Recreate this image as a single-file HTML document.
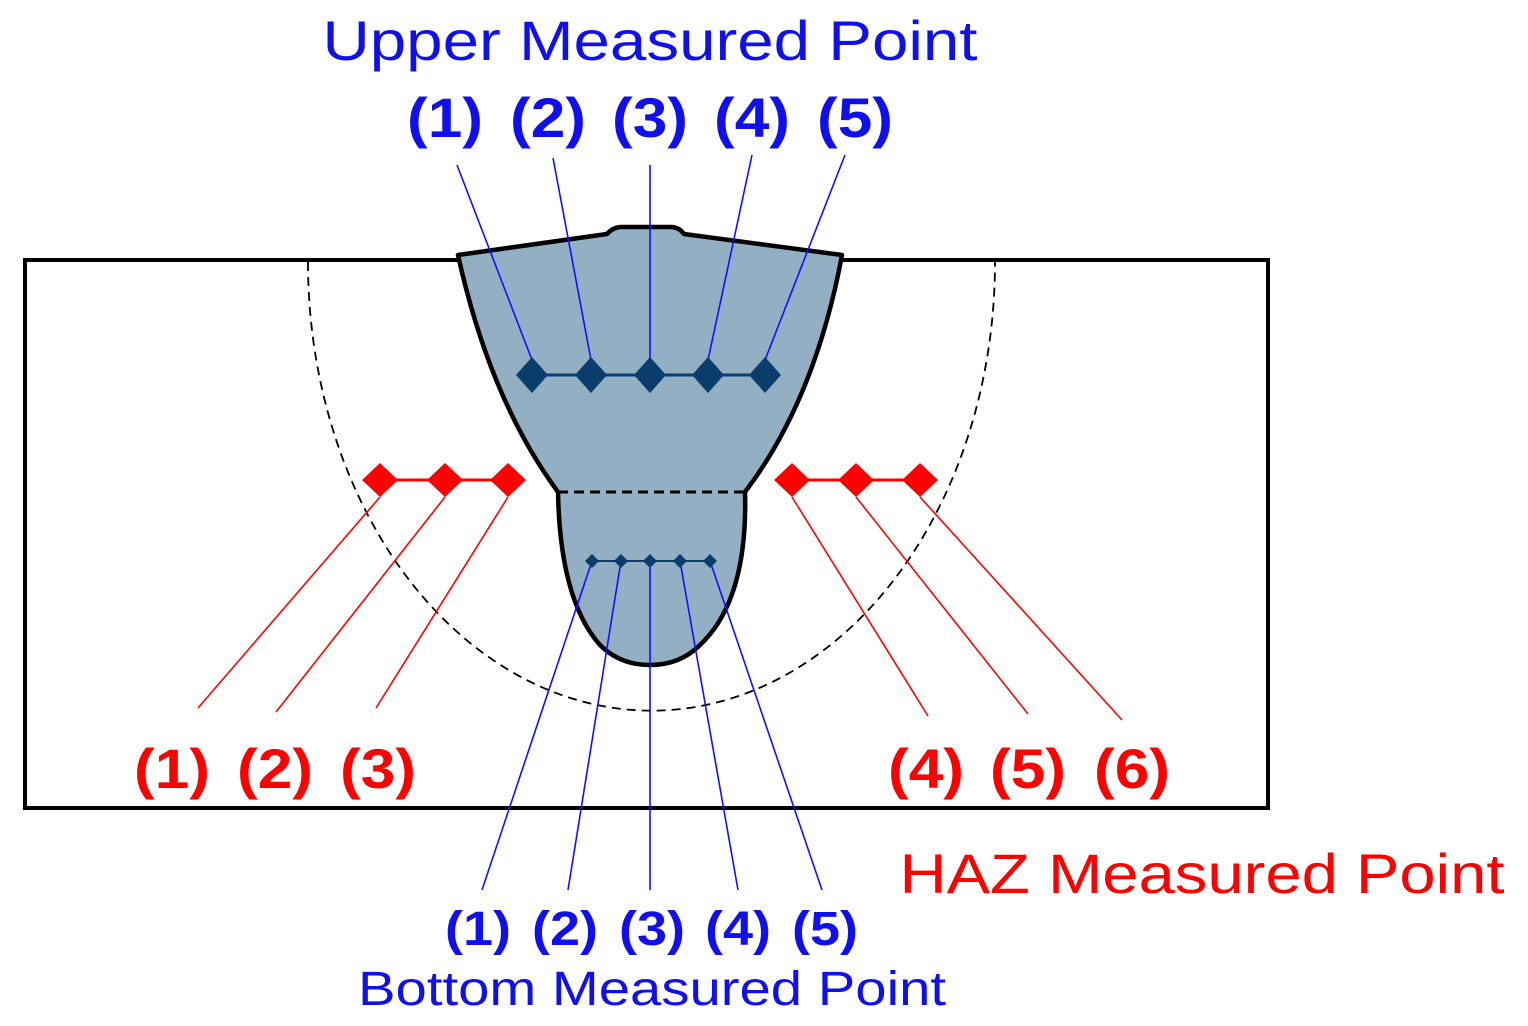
<!DOCTYPE html>
<html><head><style>body{margin:0;background:#fff}svg{display:block}</style></head><body>
<svg width="1528" height="1026" viewBox="0 0 1528 1026" xmlns="http://www.w3.org/2000/svg" font-family="Liberation Sans, sans-serif">
<rect x="25" y="260" width="1243" height="548" fill="none" stroke="#000" stroke-width="4"/>
<path d="M308,262 A343,448 0 0 0 995,262" fill="none" stroke="#000" stroke-width="1.8" stroke-dasharray="9,6"/>
<path d="M458,255 L607,234 Q612,228 620,227 L672,227 Q680,228 684,234 L842,255 Q815,400 745,492 Q748,600 700,645 Q680,665 650,665 Q620,665 600,645 Q560,600 558,492 Q490,400 458,255 Z" fill="#93AFC4" stroke="#000" stroke-width="4.5" stroke-linejoin="round"/>
<line x1="558" y1="492" x2="745" y2="492" stroke="#000" stroke-width="3" stroke-dasharray="10,6"/>
<g stroke="#1010ff" stroke-width="1.6">
<line x1="457" y1="165" x2="532" y2="360"/><line x1="553" y1="158" x2="591" y2="360"/><line x1="650" y1="165" x2="650" y2="360"/><line x1="752" y1="155" x2="708" y2="360"/><line x1="845" y1="155" x2="765" y2="360"/>
<line x1="592" y1="561" x2="482" y2="890"/><line x1="621" y1="561" x2="568" y2="890"/><line x1="650" y1="561" x2="650" y2="890"/><line x1="680" y1="561" x2="738" y2="890"/><line x1="710" y1="561" x2="822" y2="890"/>
</g>
<line x1="532" y1="375" x2="765" y2="375" stroke="#0A3D6B" stroke-width="3"/>
<g fill="#0A3D6B">
<path d="M532,357 L548,375 L532,393 L516,375Z"/><path d="M591,357 L607,375 L591,393 L575,375Z"/><path d="M650,357 L666,375 L650,393 L634,375Z"/><path d="M708,357 L724,375 L708,393 L692,375Z"/><path d="M765,357 L781,375 L765,393 L749,375Z"/>
</g>
<line x1="592" y1="561" x2="710" y2="561" stroke="#0A3D6B" stroke-width="2"/>
<g fill="#0A3D6B">
<path d="M592,554 L599,561 L592,568 L585,561Z"/><path d="M621,554 L628,561 L621,568 L614,561Z"/><path d="M650,554 L657,561 L650,568 L643,561Z"/><path d="M680,554 L687,561 L680,568 L673,561Z"/><path d="M710,554 L717,561 L710,568 L703,561Z"/>
</g>
<g stroke="#ff0000" stroke-width="1.6">
<line x1="380" y1="497" x2="198" y2="708"/><line x1="445" y1="497" x2="276" y2="712"/><line x1="508" y1="497" x2="376" y2="708"/>
<line x1="792" y1="497" x2="928" y2="716"/><line x1="856" y1="497" x2="1028" y2="714"/><line x1="920" y1="497" x2="1122" y2="720"/>
</g>
<g stroke="#ff0000" stroke-width="3"><line x1="380" y1="480" x2="508" y2="480"/><line x1="792" y1="480" x2="920" y2="480"/></g>
<g fill="#ff0000">
<path d="M380,463 L398,480 L380,497 L362,480Z"/><path d="M445,463 L463,480 L445,497 L427,480Z"/><path d="M508,463 L526,480 L508,497 L490,480Z"/>
<path d="M792,463 L810,480 L792,497 L774,480Z"/><path d="M856,463 L874,480 L856,497 L838,480Z"/><path d="M920,463 L938,480 L920,497 L902,480Z"/>
</g>
<g fill="#1010ee" text-anchor="middle">
<text x="650" y="60" font-size="56" textLength="655" lengthAdjust="spacingAndGlyphs">Upper Measured Point</text>
<g font-size="56" font-weight="bold">
<text x="445" y="137" textLength="76" lengthAdjust="spacingAndGlyphs">(1)</text><text x="548" y="137" textLength="76" lengthAdjust="spacingAndGlyphs">(2)</text><text x="650" y="137" textLength="76" lengthAdjust="spacingAndGlyphs">(3)</text><text x="752" y="137" textLength="76" lengthAdjust="spacingAndGlyphs">(4)</text><text x="855" y="137" textLength="76" lengthAdjust="spacingAndGlyphs">(5)</text>
</g>
<g font-size="48" font-weight="bold">
<text x="478" y="945" textLength="66" lengthAdjust="spacingAndGlyphs">(1)</text><text x="565" y="945" textLength="66" lengthAdjust="spacingAndGlyphs">(2)</text><text x="652" y="945" textLength="66" lengthAdjust="spacingAndGlyphs">(3)</text><text x="738" y="945" textLength="66" lengthAdjust="spacingAndGlyphs">(4)</text><text x="825" y="945" textLength="66" lengthAdjust="spacingAndGlyphs">(5)</text>
</g>
<text x="652" y="1005" font-size="48" textLength="588" lengthAdjust="spacingAndGlyphs">Bottom Measured Point</text>
</g>
<g fill="#ff0000" text-anchor="middle">
<g font-size="56" font-weight="bold">
<text x="172" y="788" textLength="76" lengthAdjust="spacingAndGlyphs">(1)</text><text x="275" y="788" textLength="76" lengthAdjust="spacingAndGlyphs">(2)</text><text x="378" y="788" textLength="76" lengthAdjust="spacingAndGlyphs">(3)</text>
<text x="926" y="788" textLength="76" lengthAdjust="spacingAndGlyphs">(4)</text><text x="1028" y="788" textLength="76" lengthAdjust="spacingAndGlyphs">(5)</text><text x="1132" y="788" textLength="76" lengthAdjust="spacingAndGlyphs">(6)</text>
</g>
<text x="1202" y="893" font-size="56" textLength="605" lengthAdjust="spacingAndGlyphs">HAZ Measured Point</text>
</g>
</svg>
</body></html>
